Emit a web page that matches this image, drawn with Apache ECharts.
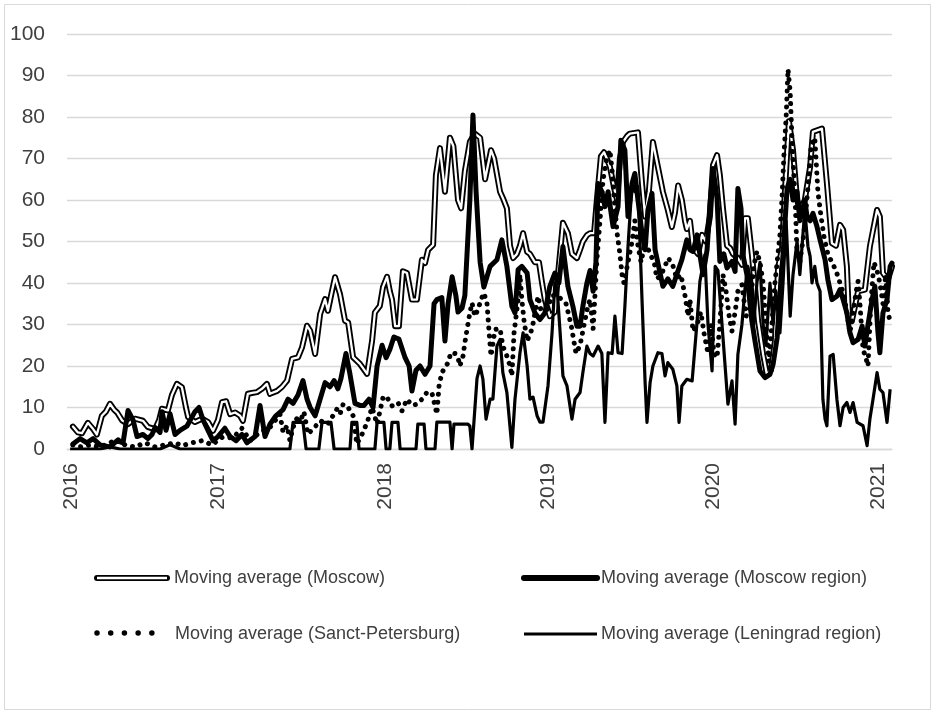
<!DOCTYPE html>
<html>
<head>
<meta charset="utf-8">
<script src="https://cdn.jsdelivr.net/npm/echarts@6/dist/echarts.min.js"></script>
<style>
html,body{margin:0;padding:0;background:#fff;}
#chart{width:936px;height:714px;}
</style>
</head>
<body>
<div id="chart"></div>
<script>
// x = week index since start of series, y = moving average value
const yearLabels = ['2016','2017','2018','2019','2020','2021'];
const yearWeeks = [1.3, 48.5, 102.1, 154.5, 207.5, 260.5];

const seriesNames = ['Moving average (Moscow)','Moving average (Moscow region)','Moving average (Sanct-Petersburg)','Moving average (Leningrad region)'];

const moscow = [[1.9,5.4],[3.5,4],[4.8,3.8],[6.7,6.3],[8.4,4.8],[9.6,3.5],[11.2,8],[12.5,9],[13.8,10.9],[15.1,9.5],[16.1,8.8],[17.7,6.9],[19.6,6],[21.8,7.3],[24.4,6.8],[26,5.3],[28.3,4.8],[29.6,7],[30.5,9.7],[32.4,9.3],[33.7,13],[35.3,15.7],[36.9,14.9],[38.2,10],[38.9,7.7],[41.1,6.5],[43.4,7.3],[45.3,6.5],[46.9,4.4],[48.5,7],[49.8,11.3],[51.1,11.5],[52.4,8.4],[54,8.8],[55.6,8],[56.5,6.8],[58.1,13.3],[59.4,13.5],[61,13.7],[62.6,14.5],[64.2,15.7],[65.2,13.3],[67.5,14],[69.1,15],[70.7,16.5],[72.3,21.7],[74.2,22.1],[75.5,24.5],[77.1,29.7],[78.1,28.5],[79.7,22.9],[81.3,32.5],[82.9,36.1],[83.8,33.3],[85.1,38],[86.1,41.4],[87.7,37.3],[89.3,30.9],[90.3,30.5],[91.9,22.1],[94.1,20.5],[96.4,18.1],[98,26.1],[98.9,32.9],[100.5,34.5],[101.5,39],[102.8,41.5],[103.7,38],[104.4,36],[105.4,29.6],[106.6,29.6],[107.9,42.8],[109.2,42.4],[110.8,36],[112.4,36],[114,45.6],[115,44.8],[116,48],[117.6,49.2],[118.5,66],[119.8,72.5],[120.8,66],[121.4,62],[123,75],[124.1,73],[125.6,60],[126.6,58],[127.8,67],[129.4,74],[131,76],[132.7,75],[134.3,65],[136.2,72],[137.2,70],[139.1,62],[140,60.5],[141.3,58],[142.3,49],[143.3,46],[144.5,47],[145.5,49],[146.5,52],[147.8,47.5],[148.7,47],[150.3,45],[151.6,45],[152.6,40],[153.5,36],[155.1,32],[156.7,33],[157.7,42],[159.3,54.5],[160.9,52],[162.2,47],[163.8,46],[164.8,48],[165.7,50],[167,51.5],[168,52],[169.3,52],[170.2,60],[171.5,70.5],[172.5,71.5],[173.4,70],[174.4,68],[175.7,63],[176.7,60],[177.6,70],[178.6,74],[179.9,75.4],[180.8,76],[183.4,76.3],[184.7,64],[185.7,56],[186.9,62],[188.2,74],[189.8,68],[191.4,62],[193,57.6],[194.3,53.5],[195.3,57],[196.3,63.5],[197.5,60],[198.5,55],[199.1,53],[200.1,55],[201.1,48.4],[202.7,47],[204,51.6],[205.2,50],[206.5,56],[207.5,68.4],[208.8,70.8],[209.7,66],[210.7,58],[212,49],[213,48.4],[213.9,47],[215.5,46],[216.8,44.4],[217.8,55.6],[218.7,55.6],[220,46.8],[221,38.8],[222,30.8],[223.6,22.8],[224.8,18],[226.1,19],[227.4,26],[228.4,43.6],[229.7,48.4],[230.6,62],[231.9,79],[233.2,72],[234.5,60],[235.4,57.6],[237,60],[238.7,68],[239.6,76.4],[242.5,77.2],[244.1,64],[245.7,49.6],[247,49],[248.3,54],[249.3,52.8],[250.5,44],[251.2,31.2],[252.1,30.8],[253.1,34.4],[254.1,38],[256.3,38.4],[257.9,48.8],[259.5,55],[260.2,57.6],[261.1,56],[262.1,42.4],[263.7,40.8],[265,44]];

const moscowRegion = [[1.9,1.2],[4.2,2.5],[6.4,1.5],[8.4,2.5],[10.6,1],[13.8,0.5],[16.1,2],[18,1.5],[19.6,9.3],[21.2,7],[22.5,3],[24.4,3.5],[26,2.5],[27.3,3.5],[28.3,5.2],[29.9,4],[30.5,9],[31.8,4.5],[33.1,8.5],[34.7,3.5],[36.3,4.5],[38.5,5.5],[41.1,9],[42.4,10],[43.7,7],[45.3,4.5],[46.9,2],[48.5,3],[50.7,5],[52.4,3],[54.3,2],[56.2,3.5],[57.8,1.5],[60.4,3],[62,10.5],[63.6,3],[65.2,6],[67.1,8],[69.4,9.5],[71,12],[72.6,11],[74.2,13],[75.8,16.5],[77.1,12],[78.1,10],[79.7,8],[81.3,12],[82.9,16],[84.5,15],[85.8,16.5],[87,14.5],[88,17],[89.6,23],[90.9,18],[92.5,11],[94.1,10.5],[95.4,10.5],[97,12],[98.3,10],[99.6,20],[101.2,25],[102.5,22],[103.7,24],[105,27],[106.6,26.5],[108.6,22],[109.9,20],[110.8,14],[112.1,19],[113.4,20],[115,18],[116.6,20],[117.9,35],[118.8,36],[120.4,36.5],[121.4,26],[122.4,35],[123.7,41.5],[124.9,37],[125.6,33],[126.9,34],[127.8,37],[129.4,60],[130.4,80.5],[131.4,62],[132.7,45],[133.9,39],[135.9,44],[138.1,45.6],[139.7,50.4],[141.3,44],[142.9,34.4],[143.9,32.8],[144.9,43.2],[146.1,44],[147.8,42.4],[148.7,36],[150.3,32.8],[151.9,31.2],[153.5,32.8],[155.1,39.2],[156.7,42.4],[158,40],[159.3,48.8],[160.9,39.2],[162.5,34.4],[163.8,29.6],[164.8,29.6],[165.7,34.4],[167,40],[168,43],[169,38],[169.9,45],[170.6,64],[171.8,62],[172.8,58.4],[173.8,62],[175.4,53.6],[177,58.4],[177.9,74.4],[179.2,72],[180.2,56],[181.5,64],[182.4,66.4],[183.4,60],[184.7,52],[185.7,48],[186.6,57.6],[187.9,61.6],[188.9,48],[190.5,42.4],[191.4,39.2],[193,41],[194.6,39.2],[196.3,43],[197.5,45.6],[199.1,50.4],[200.1,48],[201.1,47.6],[202.4,51.6],[203.3,46.8],[204.3,42],[205.6,48],[206.5,58.8],[207.5,67.6],[208.8,60.4],[209.7,45.2],[211,47],[212,43.6],[213.6,45.2],[214.6,42.8],[215.5,62.8],[216.5,58],[217.1,46.8],[218.4,42],[220,30.8],[221,26],[222.6,18.8],[224.2,17.2],[225.8,18],[226.8,20.4],[228.1,26.8],[229,37.2],[230,46.8],[231.3,62.8],[232.3,65],[233.2,60],[234.5,62],[235.4,55],[237,60],[237.7,56],[238.7,55],[239.6,56.8],[240.9,53.6],[241.9,50.4],[243.5,45.6],[244.4,40.8],[245.7,36],[247.3,36.8],[248.3,38.4],[249.3,36],[250.5,32.8],[251.5,28],[252.5,25.6],[254.1,26.4],[255.4,29.6],[256.3,24.8],[257.3,30],[258.6,36],[259.5,39.2],[260.5,28],[261.1,23.2],[262.1,32.8],[263.4,36],[264.4,44],[265,44.8]];

const stPetersburg = [[1.9,1],[4.2,0.5],[7.4,1],[10.6,0.5],[13.8,1.5],[16.1,2.4],[18.6,1],[21.8,0.5],[25.1,1.5],[28.3,0.5],[31.5,1],[34.7,1.5],[36.9,0.8],[40.2,1.5],[43.4,2],[46.6,1],[49.8,2.8],[53.3,2.7],[56.2,5],[58.8,2],[62,4],[65.2,5.2],[68.4,8.4],[69.4,4],[70.7,5.6],[71.6,2],[72.6,5.2],[74.2,8],[74.8,6.4],[76.1,9],[77.4,3.6],[79.3,5],[81.3,6.8],[83.8,6],[86.7,9.6],[87.7,8.4],[88.7,10.8],[90.3,10],[91.9,8],[93.1,1.2],[94.8,3.6],[96.4,6.4],[98,10],[99.6,6],[101.5,12.4],[102.5,12.8],[104.4,10.4],[106.3,11.2],[107.6,9.2],[109.2,12],[110.8,10.5],[112.4,10.8],[114,12],[115.6,13.6],[117.2,13.6],[118.2,10.4],[118.8,8.4],[119.5,15.2],[120.4,18.4],[122.4,20.8],[123.3,23.2],[124.6,23],[125.6,22],[126.2,20],[127.2,22.4],[127.8,25.6],[128.5,28.8],[129.4,32.8],[130.1,35.2],[131,32],[132,33.6],[133,36],[133.9,37.6],[134.9,35.2],[135.6,28],[136.2,22.4],[137.5,28.8],[139.1,29],[140,24.8],[141.3,22.4],[142.3,20],[142.9,17.6],[143.6,28],[144.9,36],[145.5,42],[146.1,36],[146.8,31],[147.8,26],[149.4,29],[151.3,36.8],[152.2,33.6],[154.2,33.5],[155.8,37],[157.4,37],[159,36],[160.3,35],[161.9,30],[163.5,23],[164.8,25],[166.1,30],[167.3,34.4],[168,36],[169,29],[170.2,45.6],[171.2,55],[172.2,65],[173.4,70],[174.4,72],[175.1,67],[175.7,61],[176.7,52],[177.6,47],[178.3,42],[178.9,40],[180.2,45],[181.5,50],[182.4,55],[183.4,49],[184.4,45],[185.7,50],[187.3,47],[188.6,45],[189.5,41],[190.8,42],[192.1,44],[193,46],[194.3,45],[195.9,41],[197.2,42],[198.5,37],[199.5,32],[200.1,36],[201.1,28.4],[202.4,30],[203.6,33],[204.6,28],[205.9,23],[206.9,30],[207.8,23],[208.8,22],[209.7,30],[210.7,42],[211.7,38],[212.7,32],[213.6,28.4],[214.6,33],[215.5,38],[216.8,39.6],[218.1,32],[219.4,34],[220.6,44],[221.6,47.6],[222.6,45],[223.6,40],[224.5,30],[225.5,21],[226.4,30],[227.4,40],[228.1,45],[229,51.6],[229.7,61],[230.3,71],[231,80],[231.6,91.5],[232.3,86],[232.9,74],[233.9,60],[234.5,47],[235.4,45],[236.7,52],[238,63],[239,73],[240.2,75],[241.2,62],[242.2,56],[243.2,51],[244.4,47],[245.7,45],[247,43],[248.3,40],[249.6,37],[250.9,31],[251.5,28],[252.5,33],[253.5,38],[254.1,40.4],[254.7,35],[255.7,24],[256.6,22],[257.3,20],[258.2,35],[259.2,45],[260.2,43],[261.1,40],[262.1,35],[263,42],[263.7,33],[264.6,30]];

const leningradRegion = [[1,0],[10.6,0],[13.8,0.5],[17,0],[29.9,0],[33.1,1],[36.3,0],[71.6,0],[72.6,6.4],[75.8,6.4],[76.8,0],[80.9,0],[81.9,6.4],[84.8,6.4],[85.8,0],[90.9,0],[91.5,6.4],[93.1,6.4],[93.8,0],[98.9,0],[99.6,6.4],[101.8,6.4],[102.5,0],[103.7,0],[104.4,6.4],[106.3,6.4],[107,0],[112.1,0],[112.7,6],[114.7,6],[115.3,0],[118.2,0],[118.8,6.5],[123,6.5],[123.7,0],[124.3,6],[128.8,6],[129.4,5.5],[130.1,0],[130.7,0],[131.7,17],[132.7,20],[133.6,16.8],[134.6,7.2],[135.9,12],[136.8,12],[138.1,24.8],[139.1,26.4],[140,18.4],[141.3,13.6],[142.9,0.4],[143.9,12],[145.5,23.2],[146.5,28],[147.8,20],[148.7,12],[149.7,12.5],[151,8],[151.9,6.5],[152.9,6.5],[154.5,15.2],[155.8,28],[156.7,40],[157.4,39],[158.4,28],[159.3,17.6],[160.6,15.2],[162.2,7.2],[163.2,12],[164.8,13.6],[165.7,18.4],[167,24.8],[168,23],[169,22.4],[170.6,24.8],[171.8,23],[172.8,6.4],[173.8,23.2],[175.1,23],[176,32],[177,23.2],[178.3,23],[179.2,34.4],[180.2,48.8],[181.5,64],[182.4,62],[183.4,63.2],[184.7,36],[185.7,16],[186.3,6.4],[187.3,16],[188.2,20],[189.8,23.2],[191.1,23],[192.1,17.6],[193,20.8],[194.6,19.2],[195.9,15.2],[196.6,6.4],[197.5,15.2],[199.1,16.8],[200.8,16.4],[202.4,30.8],[203.3,40.4],[204.9,46.8],[205.9,30],[207.2,18.8],[208.2,44],[209.1,43],[210.4,30],[212.3,10.8],[213.6,16.4],[214.6,6],[215.5,22.8],[216.8,30],[217.8,38.8],[218.7,44],[219.7,40],[220.6,30],[221.6,40],[222.6,45],[223.6,30],[224.5,25],[225.8,40],[226.8,30],[227.7,38],[229,28],[230,40],[231,55],[232.3,32],[233.2,42],[234.5,50],[235.4,42],[237,57.6],[238,48.8],[238.7,46.4],[239.3,40],[240.2,44],[240.9,40],[241.9,38],[242.8,12],[243.5,7.2],[244.1,5.6],[245.1,22.4],[246.1,22.8],[247.3,12],[248.3,5.6],[249.3,10],[250.5,11.2],[251.5,8.8],[252.5,11.2],[253.8,6.4],[255.7,5.6],[257,0.8],[257.9,7.2],[258.9,12],[260.2,18.4],[261.1,14.4],[262.1,13.6],[263.4,6.4],[264.4,14.4]];

const FONT = '"Liberation Sans", Arial, sans-serif';
const TXT = '#404040';

const chart = echarts.init(document.getElementById('chart'), null, {renderer:'canvas'});

const baseLine = {type:'line', showSymbol:false, symbol:'none', silent:true, animation:false};

chart.setOption({
  animation:false,
  backgroundColor:'#ffffff',
  grid:{left:67, right:44, top:34, bottom:265, containLabel:false},
  xAxis:{
    type:'value', min:0, max:265,
    axisLine:{show:true, lineStyle:{color:'#d9d9d9', width:1.3}},
    axisTick:{show:false},
    splitLine:{show:false},
    axisLabel:{
      customValues: yearWeeks,
      rotate:90, margin:14,
      color:TXT, fontFamily:FONT, fontSize:21,
      formatter:function(v){ const i = yearWeeks.indexOf(v); return i>=0 ? yearLabels[i] : ''; }
    }
  },
  yAxis:{
    type:'value', min:0, max:100, interval:10,
    axisLine:{show:false}, axisTick:{show:false},
    splitLine:{show:true, lineStyle:{color:'#d9d9d9', width:1.3}},
    axisLabel:{color:TXT, fontFamily:FONT, fontSize:21, margin:22}
  },
  series:[
    Object.assign({}, baseLine, {name:seriesNames[0], data:moscow, z:2,
      lineStyle:{color:'#000', width:6, join:'round', cap:'round'}}),
    Object.assign({}, baseLine, {name:seriesNames[0]+' inner', data:moscow, z:2,
      lineStyle:{color:'#fff', width:2.3, join:'round', cap:'round'}}),
    Object.assign({}, baseLine, {name:seriesNames[1], data:moscowRegion, z:3,
      lineStyle:{color:'#000', width:5, join:'round', cap:'round'}}),
    Object.assign({}, baseLine, {name:seriesNames[2], data:stPetersburg, z:4,
      lineStyle:{color:'#000', width:5, type:[0.01, 8], cap:'round', join:'round'}}),
    Object.assign({}, baseLine, {name:seriesNames[3], data:leningradRegion, z:5,
      lineStyle:{color:'#000', width:3.2, join:'round'}})
  ],
  graphic:[
    {type:'rect', silent:true, shape:{x:4.5, y:4.5, width:926, height:705},
      style:{fill:'none', stroke:'#d9d9d9', lineWidth:1}},
    // legend row 1
    {type:'line', silent:true, shape:{x1:97, y1:578, x2:167, y2:578},
      style:{stroke:'#000', lineWidth:6, lineCap:'round'}},
    {type:'line', silent:true, shape:{x1:97, y1:578, x2:167, y2:578},
      style:{stroke:'#fff', lineWidth:2.3}},
    {type:'text', silent:true, style:{text:seriesNames[0], x:174, y:578, fill:TXT, font:'18px '+FONT, verticalAlign:'middle', align:'left'}},
    {type:'line', silent:true, shape:{x1:524, y1:578, x2:597, y2:578},
      style:{stroke:'#000', lineWidth:6, lineCap:'round'}},
    {type:'text', silent:true, style:{text:seriesNames[1], x:601, y:578, fill:TXT, font:'18px '+FONT, verticalAlign:'middle', align:'left'}},
    // legend row 2
    {type:'line', silent:true, shape:{x1:97, y1:633, x2:152, y2:633},
      style:{stroke:'#000', lineWidth:5.5, lineCap:'round', lineDash:[0.01, 13.7]}},
    {type:'text', silent:true, style:{text:seriesNames[2], x:175, y:634, fill:TXT, font:'18px '+FONT, verticalAlign:'middle', align:'left'}},
    {type:'line', silent:true, shape:{x1:524, y1:634, x2:597, y2:634},
      style:{stroke:'#000', lineWidth:3.2}},
    {type:'text', silent:true, style:{text:seriesNames[3], x:601, y:634, fill:TXT, font:'18px '+FONT, verticalAlign:'middle', align:'left'}}
  ]
});
</script>
</body>
</html>
